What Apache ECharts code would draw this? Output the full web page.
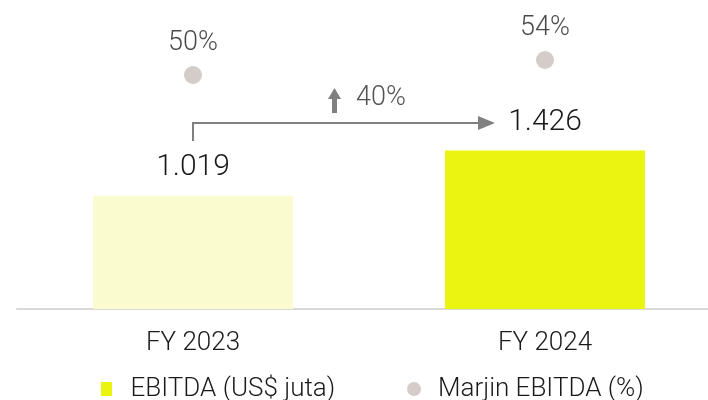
<!DOCTYPE html>
<html>
<head>
<meta charset="utf-8">
<script src="https://cdn.jsdelivr.net/npm/echarts@6/dist/echarts.min.js"></script>
<style>
  html, body { margin: 0; padding: 0; background: #fff; }
  #chart { width: 708px; height: 400px; }
</style>
</head>
<body>
<div id="chart"></div>
<script>
const years = ['FY 2023', 'FY 2024']
const ebitda = [1019, 1426]
const ebitdaLabels = ['1.019', '1.426']
const margin = [50, 54]
const growthLabel = '40%'

const FONT = 'Roboto, "Noto Sans", sans-serif'
const W = 300
const INK = '#1a1a1a'

const legendText = { fontSize: 26, color: INK, fontFamily: FONT, fontWeight: W, padding: [0, 0, 0, 12] }

const chart = echarts.init(document.getElementById('chart'))

const option = {
  animation: false,
  textStyle: { fontFamily: FONT, fontWeight: W },
  grid: { left: 17, width: 704, top: 39, bottom: 91, outerBoundsMode: 'none' },
  // two legends so each item sits where the reference has it
  legend: [
    {
      left: 96, top: 371, itemWidth: 14, itemHeight: 14,
      textStyle: legendText,
      data: [{ name: 'EBITDA (US$ juta)', icon: 'path://M0,0h11v14h-11z' }]
    },
    {
      left: 402, top: 371, itemWidth: 14, itemHeight: 14,
      textStyle: legendText,
      data: [{ name: 'Marjin EBITDA (%)', icon: 'circle' }]
    }
  ],
  xAxis: {
    type: 'category',
    data: years,
    axisLine: { lineStyle: { color: '#d9d9d9', width: 2 } },
    axisTick: { show: false },
    axisLabel: { fontSize: 26, color: INK, margin: 21, fontFamily: FONT, fontWeight: W }
  },
  yAxis: [
    { type: 'value', min: 0, max: 2428, show: false, splitLine: { show: false } },
    { type: 'value', min: -12.4, max: 59.6, show: false, splitLine: { show: false } }
  ],
  series: [
    {
      name: 'EBITDA (US$ juta)',
      type: 'bar',
      barWidth: 200,
      data: ebitda.map((v, i) => ({
        value: v,
        itemStyle: { color: i === 0 ? '#fafcd0' : '#e9f50f' }
      })),
      itemStyle: { color: '#e9f50f' },
      label: {
        show: true,
        position: 'top',
        distance: 13,
        fontSize: 30,
        color: INK,
        fontFamily: FONT,
        fontWeight: W,
        formatter: p => ebitdaLabels[p.dataIndex]
      }
    },
    {
      name: 'Marjin EBITDA (%)',
      type: 'scatter',
      yAxisIndex: 1,
      symbolSize: 18,
      itemStyle: { color: '#c8bfbc' },
      data: margin,
      label: {
        show: true,
        position: 'top',
        distance: 9,
        fontSize: 27,
        color: INK,
        fontFamily: FONT,
        fontWeight: W,
        formatter: p => p.value + '%'
      }
    }
  ]
}

chart.setOption(option)

// growth arrow between the two years
const x0 = chart.convertToPixel({ xAxisIndex: 0 }, years[0])
const gray = '#808080'
chart.setOption({
  graphic: [
    { type: 'polyline', shape: { points: [[x0, 141], [x0, 123], [480, 123]] }, style: { stroke: gray, lineWidth: 2, fill: null } },
    { type: 'polygon', shape: { points: [[334.5, 88], [341, 99], [337, 99], [337, 113], [332, 113], [332, 99], [328, 99]] }, style: { fill: gray } },
    { type: 'polygon', shape: { points: [[478, 116], [495, 123], [478, 130]] }, style: { fill: gray } },
    { type: 'text', left: 356, top: 85, style: { text: growthLabel, fontSize: 27, fill: '#555', fontFamily: FONT, fontWeight: W } }
  ]
})
</script>
</body>
</html>
